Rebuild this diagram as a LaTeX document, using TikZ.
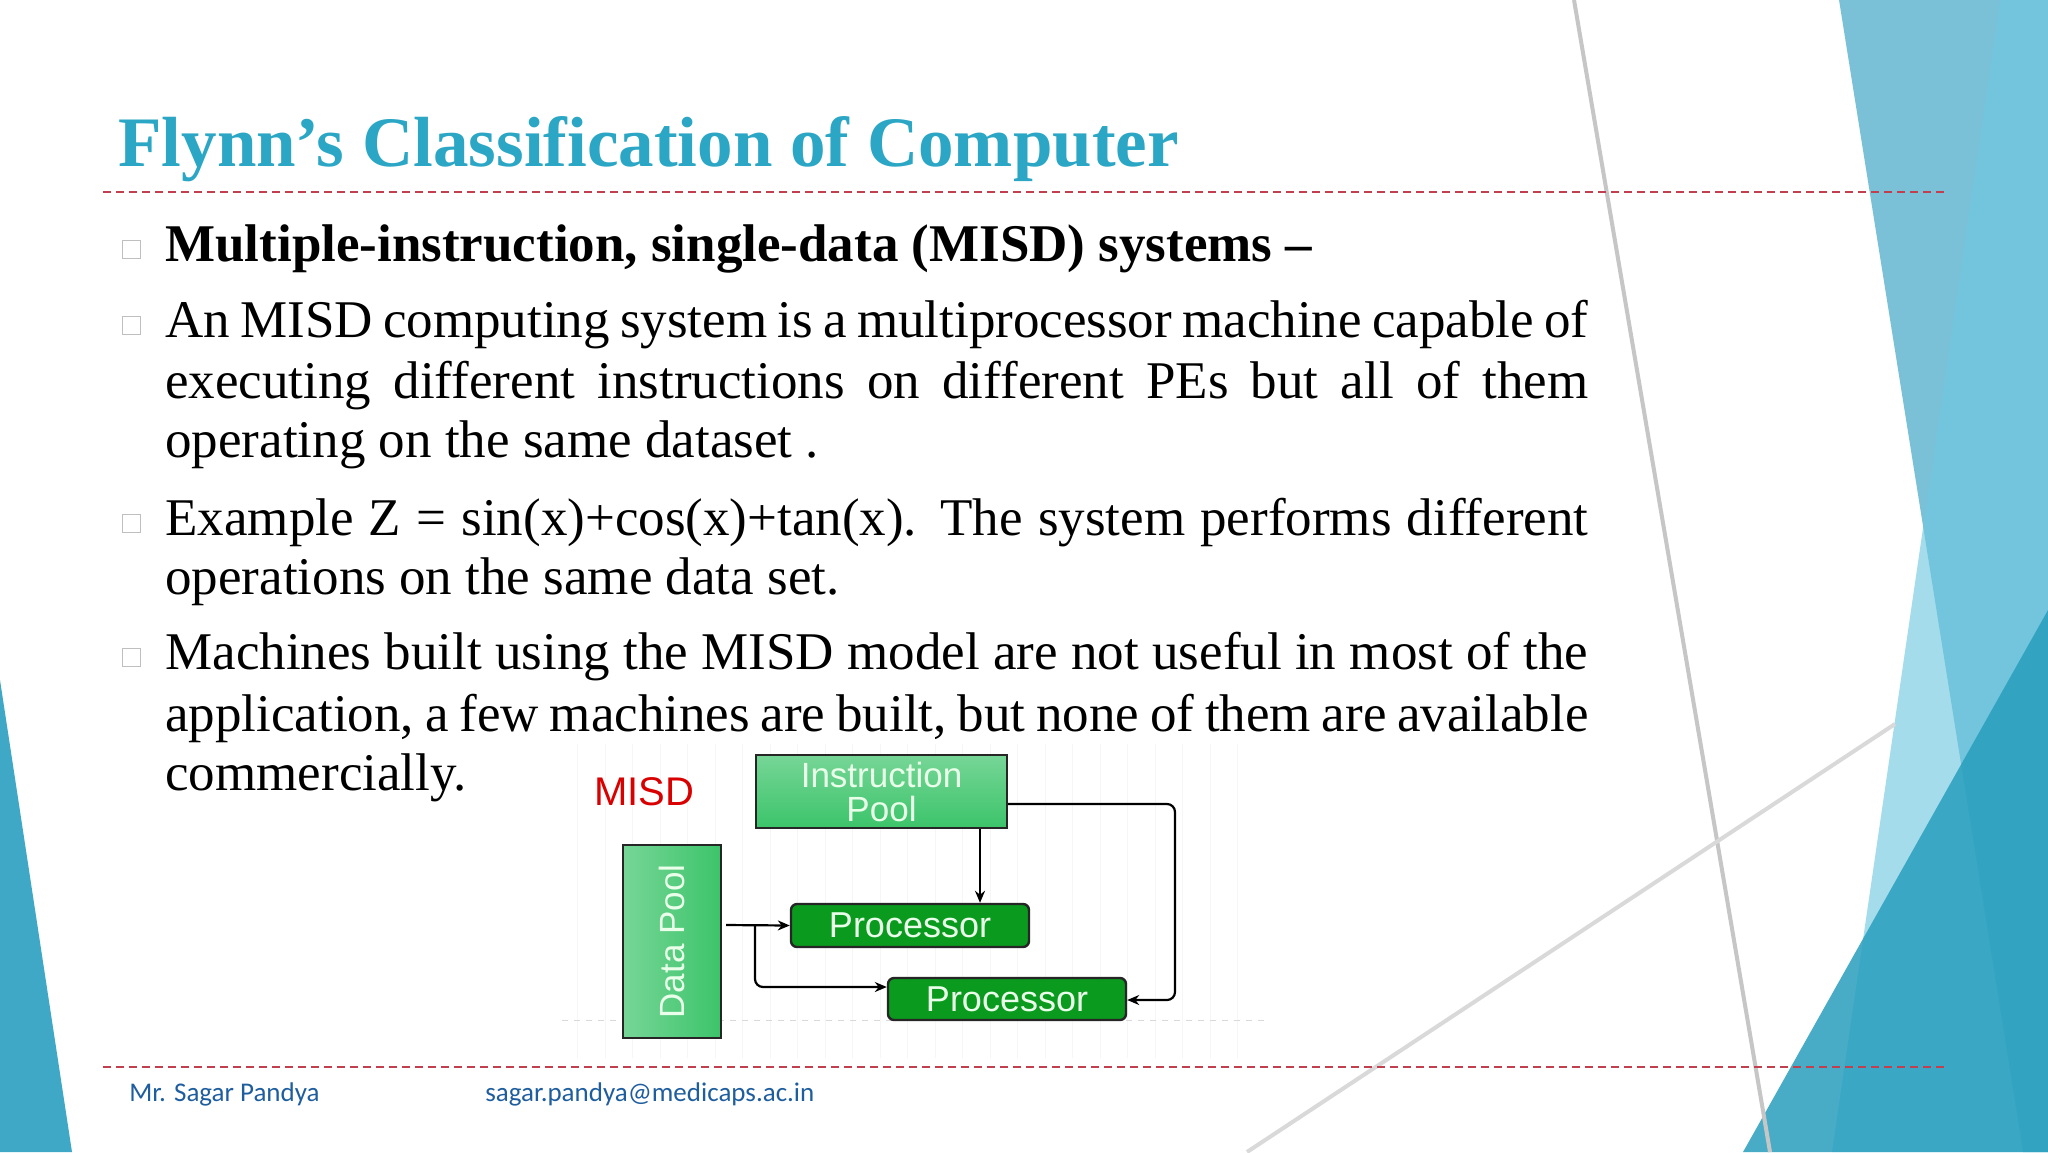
\documentclass[tikz,border=0pt]{standalone}
\usepackage{fontspec}
\setmainfont{Liberation Serif}
\newfontfamily\arialf{Liberation Sans}
\newfontfamily\carf{Carlito}
\usetikzlibrary{arrows.meta,shadings}
\definecolor{titleblue}{HTML}{2BA7C5}
\definecolor{footblue}{HTML}{1F5E9E}
\definecolor{dashred}{HTML}{C0404F}
\definecolor{boxg}{HTML}{3CC46A}
\definecolor{procg}{HTML}{0A9A1E}
\definecolor{txtg}{HTML}{EAFFEA}
\tikzset{
 line/.style={font=\fontsize{26.5pt}{30pt}\selectfont, anchor=base west, inner sep=0pt},
 bul/.style={draw=black!25, fill=white, minimum size=9pt, inner sep=0pt, line width=0.5pt},
 gbox/.style={draw=black!85, line width=1.2pt, text=txtg, font=\arialf\fontsize{17.5pt}{19pt}\selectfont, align=center, inner sep=0pt},
 ipbox/.style={gbox, top color=boxg!70!white, bottom color=boxg},
 dpbox/.style={gbox, left color=boxg!70!white, right color=boxg},
 pbox/.style={draw=black!85, line width=1.2pt, fill=procg, rounded corners=3pt, text=txtg, font=\arialf\fontsize{18pt}{20pt}\selectfont, inner sep=0pt},
 con/.style={draw=black, line width=1.1pt, -{Stealth[length=6pt,width=5pt]}, rounded corners=4pt},
 sep/.style={draw=dashred, dash pattern=on 4pt off 2.5pt, line width=0.6pt}
}
\begin{document}
\begin{tikzpicture}[x=0.5pt,y=-0.5pt]
\useasboundingbox (0,0) rectangle (2048,1152);
\fill[white] (0,0) rectangle (2048,1152);
% right decoration
\fill[color={rgb,255:red,71;green,170;blue,200}, opacity=0.72] (1839,0) -- (2048,0) -- (2048,1152) -- (2023,1152) -- cycle;
\fill[color={rgb,255:red,110;green,200;blue,225}, opacity=0.62] (2000,0) -- (2048,0) -- (2048,1152) -- (1832,1152) -- cycle;
\fill[color={rgb,255:red,40;green,158;blue,190}, opacity=0.85] (1743,1152) -- (2048,610) -- (2048,1152) -- cycle;
\fill[color={rgb,255:red,63;green,168;blue,198}] (0,680) -- (72,1152) -- (0,1152) -- cycle;
% grey lines
\draw[gray!45, line width=2pt] (1574,0) -- (1770,1152);
\draw[gray!30, line width=2pt] (1247,1152) -- (1895,724);
% separators
\draw[sep] (103,192) -- (1946,192);
\draw[sep] (103,1067) -- (1946,1067);
% title
\node[anchor=base west, inner sep=0pt, text=titleblue, font=\bfseries\fontsize{35.5pt}{40pt}\selectfont] (title) at (118,166) {Flynn’s Classification of Computer};
% bullets
\foreach \y/\n in {261/b1,337/b2,535/b3,669/b4} {\node[bul] (\n) at (131,\y-12) {};}
% text
\node[line, font=\bfseries\fontsize{26.5pt}{30pt}\selectfont] (t1) at (165,261) {Multiple-instruction, single-data (MISD) systems –};
\node[line] (t2) at (165,337) {\makebox[711.5pt][s]{An MISD computing system is a multiprocessor machine capable of}};
\node[line] (t3) at (165,398) {\makebox[711.5pt][s]{executing different instructions on different PEs but all of them}};
\node[line] (t4) at (165,457) {operating on the same dataset .};
\node[line] (t5) at (165,535) {\makebox[711.5pt][s]{Example Z = sin(x)+cos(x)+tan(x). The system performs different}};
\node[line] (t6) at (165,594) {operations on the same data set.};
\node[line] (t7) at (165,669) {\makebox[711.5pt][s]{Machines built using the MISD model are not useful in most of the}};
\node[line] (t8) at (165,731) {\makebox[711.5pt][s]{application, a few machines are built, but none of them are available}};
\node[line] (t9) at (165,790) {commercially.};
% diagram background grid
\fill[white] (562,744) rectangle (1264,1058);
\draw[gray!7, line width=0.5pt] (562,744) grid[step=27.5] (1264,1058);
\draw[gray!30, dashed, line width=0.5pt] (562,1020) -- (1264,1020);
\node[text=red!85!black, font=\arialf\fontsize{20pt}{22pt}\selectfont, inner sep=0pt] (misd) at (644,792) {MISD};
\node[ipbox, minimum width=125.5pt, minimum height=36.5pt] (ip) at (881.5,791.5) {Instruction\\[-2pt]Pool};
\node[dpbox, minimum width=49pt, minimum height=96.5pt] (dp) at (672,941.5) {\rotatebox{90}{Data Pool}};
\node[pbox, minimum width=119pt, minimum height=21.5pt] (p1) at (910,925.5) {Processor};
\node[pbox, minimum width=119pt, minimum height=21pt] (p2) at (1007,999) {Processor};
\coordinate (ds) at (726,925);
\draw[con] (ip.south -| 980,0) -- (p1.north -| 980,0);
\draw[con] (ip.east |- 0,804) -- (1175,804) -- (1175,1000) -- (p2.east |- 0,1000);
\draw[con] (ds) -- (p1.west);
\draw[con] (755,925) -- (755,987) -- (p2.west |- 0,987);
% footer
\node[anchor=base west, inner sep=0pt, text=footblue, font=\carf\fontsize{13.5pt}{15pt}\selectfont] (f1) at (129,1101) {Mr. Sagar Pandya};
\node[anchor=base west, inner sep=0pt, text=footblue, font=\carf\fontsize{13.5pt}{15pt}\selectfont] (f2) at (485,1101) {sagar.pandya@medicaps.ac.in};
\end{tikzpicture}
\end{document}
